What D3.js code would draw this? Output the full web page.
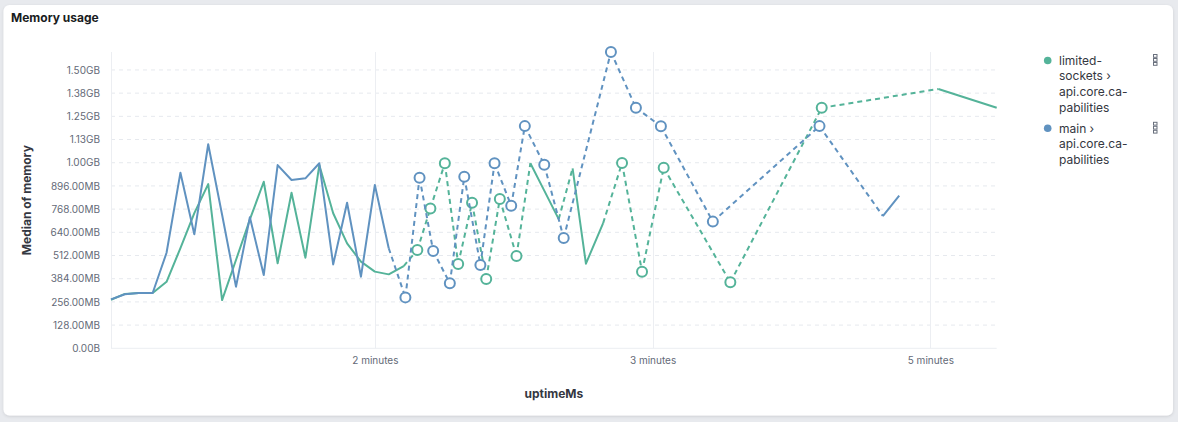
<!DOCTYPE html>
<html>
<head>
<meta charset="utf-8">
<script src="https://cdn.jsdelivr.net/npm/d3@7"></script>
<style>
  html, body { margin: 0; padding: 0; background: #e8eaee; }
  svg { display: block; font-family: Inter, "Noto Sans", sans-serif; }
</style>
</head>
<body>
<svg id="chart" width="1178" height="422"></svg>
<script>
// ---- data (uptime in seconds, memory medians in MB; null = no value in that bucket) ----
const uptimeSec = [
  5, 10, 15, 20, 25, 30, 35, 40, 45, 50,
  55, 60, 65, 70, 75, 80, 85, 90, 95, 100,
  105, 110.4, 111.0, 115.3, 116.1, 120.0, 121.0, 125.2, 127.0, 130.0,
  132.2, 135.0, 138.0, 140.1, 143.1, 145.0, 149.1, 151.0, 154.0, 156.0,
  161.0, 166.2, 168.0, 171.2, 176.0, 182.2, 185.0, 189.0, 194.0, 196.2,
  203.0, 204.0, 221.7, 228.0, 260.1, 260.9, 282.9, 288.8, 302.9, 323.9
];
const limitedSockets = [
  268, 300, 305, 305, 367, 553, 746, 906, 266, 487,
  711, 919, 469, 858, 500, 1011, 745, 579, 478, 423,
  408, 454, null, 542, null, 772, null, 1021, null, 465,
  null, 803, null, 382, null, 824, null, 509, null, 1021,
  870, 713, null, 993, 467, 691, null, 1022, null, 423,
  null, 996, null, 364, null, 1327, null, null, 1431, 1327
];
const mainSeries = [
  270, 298, 305, 305, 527, 969, 629, 1126, 737, 340,
  723, 404, 1011, 929, 938, 1021, 463, 803, 395, 901,
  552, null, 281, null, 941, null, 537, null, 359, null,
  947, null, 460, null, 1021, null, 787, null, 1226, null,
  1013, null, 608, null, null, null, 1635, null, 1327, null,
  1225, null, 699, null, 1226, null, 730, 842, null, null
];
const seriesNames = [["limited-", "sockets ›", "api.core.ca-", "pabilities"], ["main ›", "api.core.ca-", "pabilities"]];
const seriesColors = ["#54B399", "#6092C0"];
const yTickValues = [0, 128, 256, 384, 512, 640, 768, 896, 1024, 1152, 1280, 1408, 1536];
const yTickLabels = ["0.00B", "128.00MB", "256.00MB", "384.00MB", "512.00MB", "640.00MB", "768.00MB",
                     "896.00MB", "1.00GB", "1.13GB", "1.25GB", "1.38GB", "1.50GB"];
const xTickValues = [100, 200, 300];
const xTickLabels = ["2 minutes", "3 minutes", "5 minutes"];

// ---- layout ----
const svg = d3.select("#chart");
const plot = { left: 111, right: 996.7, top: 52, bottom: 348.3 };

const defs = svg.append("defs");
const f = defs.append("filter").attr("id", "shadow").attr("x", "-5%").attr("y", "-5%").attr("width", "110%").attr("height", "110%");
f.append("feDropShadow").attr("dx", 0).attr("dy", 1).attr("stdDeviation", 1.5).attr("flood-color", "#000").attr("flood-opacity", 0.12);

svg.append("rect").attr("x", 3.5).attr("y", 5).attr("width", 1169.5).attr("height", 410.5)
  .attr("rx", 6).attr("fill", "#fff").attr("filter", "url(#shadow)");

svg.append("text").attr("x", 11).attr("y", 21.5).attr("font-size", 12).attr("font-weight", 700)
  .attr("fill", "#1a1c21").text("Memory usage");

const x = d3.scaleLinear().domain(d3.extent(uptimeSec)).range([plot.left, plot.right]);
const allVals = limitedSockets.concat(mainSeries).filter(v => v != null);
const y = d3.scaleLinear().domain([0, d3.max(allVals)]).range([plot.bottom, plot.top]);

// grid
const g = svg.append("g");
g.selectAll("line.h").data(yTickValues.slice(1)).join("line")
  .attr("x1", plot.left).attr("x2", plot.right)
  .attr("y1", d => y(d)).attr("y2", d => y(d))
  .attr("stroke", "#e6e9ee").attr("stroke-width", 1).attr("stroke-dasharray", "4,4");
g.selectAll("line.v").data(xTickValues).join("line")
  .attr("x1", d => Math.round(x(d)) + 0.5).attr("x2", d => Math.round(x(d)) + 0.5)
  .attr("y1", plot.top).attr("y2", plot.bottom)
  .attr("stroke", "#eceef2").attr("stroke-width", 1);
g.append("line").attr("x1", plot.left + 0.5).attr("x2", plot.left + 0.5).attr("y1", plot.top).attr("y2", plot.bottom)
  .attr("stroke", "#eceef2");
g.append("line").attr("x1", plot.left).attr("x2", plot.right).attr("y1", plot.bottom).attr("y2", plot.bottom)
  .attr("stroke", "#eceef2");

// axes
const yAxis = d3.axisLeft(y).tickValues(yTickValues).tickFormat((d, i) => yTickLabels[i]).tickSize(0).tickPadding(11);
const ya = svg.append("g").attr("transform", `translate(${plot.left},0)`).call(yAxis);
ya.select(".domain").remove();
ya.selectAll("text").attr("font-size", 10).attr("fill", "#646a77").attr("font-family", "Inter, sans-serif");

const xAxis = d3.axisBottom(x).tickValues(xTickValues).tickFormat((d, i) => xTickLabels[i]).tickSize(0).tickPadding(9);
const xa = svg.append("g").attr("transform", `translate(0,${plot.bottom})`).call(xAxis);
xa.select(".domain").remove();
xa.selectAll("text").attr("font-size", 10).attr("fill", "#646a77").attr("font-family", "Inter, sans-serif");

svg.append("text").attr("x", (plot.left + plot.right) / 2).attr("y", 397.5).attr("text-anchor", "middle")
  .attr("font-size", 12).attr("font-weight", 700).attr("fill", "#343741").text("uptimeMs");
svg.append("text").attr("transform", `translate(31,${(plot.top + plot.bottom) / 2}) rotate(-90)`)
  .attr("text-anchor", "middle").attr("font-size", 12).attr("font-weight", 700).attr("fill", "#343741")
  .text("Median of memory");

// series
function drawSeries(values, color) {
  const pts = values.map((v, i) => ({ i, x: uptimeSec[i], v }));
  const sg = svg.append("g");
  const line = d3.line().defined(d => d.v != null).x(d => x(d.x)).y(d => y(d.v));
  // dashed fitted segments across missing buckets
  const defined = pts.filter(d => d.v != null);
  const gaps = [];
  for (let k = 1; k < defined.length; k++) {
    if (defined[k].i - defined[k - 1].i > 1) gaps.push([defined[k - 1], defined[k]]);
  }
  sg.selectAll("path.fit").data(gaps).join("path")
    .attr("d", d => d3.line().x(p => x(p.x)).y(p => y(p.v))(d))
    .attr("fill", "none").attr("stroke", color).attr("stroke-width", 2)
    .attr("stroke-dasharray", "5,4");
  sg.append("path").datum(pts).attr("d", line)
    .attr("fill", "none").attr("stroke", color).attr("stroke-width", 2)
    .attr("stroke-linejoin", "round");
  const isolated = pts.filter(d => d.v != null &&
    (d.i === 0 || values[d.i - 1] == null) && (d.i === values.length - 1 || values[d.i + 1] == null));
  sg.selectAll("circle").data(isolated).join("circle")
    .attr("cx", d => x(d.x)).attr("cy", d => y(d.v)).attr("r", 5)
    .attr("fill", "#fff").attr("stroke", color).attr("stroke-width", 2);
}
drawSeries(limitedSockets, seriesColors[0]);
drawSeries(mainSeries, seriesColors[1]);

// legend
const lg = svg.append("g");
let ly = 60.5;
seriesNames.forEach((lines, si) => {
  lg.append("circle").attr("cx", 1047.7).attr("cy", ly).attr("r", 3.8).attr("fill", seriesColors[si]);
  lines.forEach((t, li) => {
    lg.append("text").attr("x", 1059).attr("y", ly + li * 15.7).attr("dy", "0.35em")
      .attr("font-size", 12).attr("fill", "#343741").text(t);
  });
  [0, 1, 2].forEach(k => {
    lg.append("rect").attr("x", 1153.5).attr("y", ly - 6 + k * 4).attr("width", 3.5).attr("height", 2.8)
      .attr("fill", "#fff").attr("stroke", "#69707d").attr("stroke-width", 1);
  });
  ly += lines.length * 15.7 + 5;
});
</script>
</body>
</html>
